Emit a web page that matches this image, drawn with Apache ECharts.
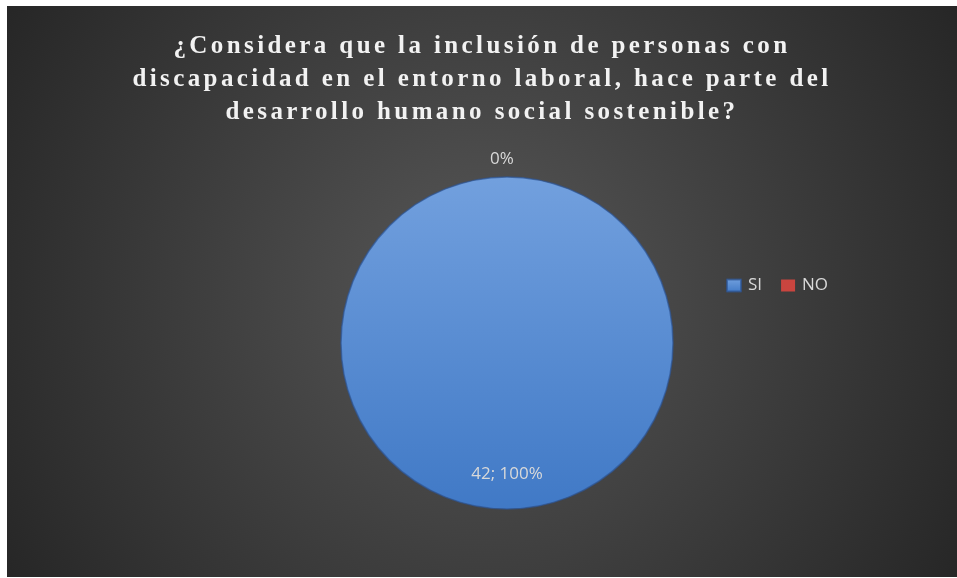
<!DOCTYPE html>
<html>
<head>
<meta charset="utf-8">
<script src="https://cdn.jsdelivr.net/npm/echarts@6/dist/echarts.min.js"></script>
<style>
  html, body { margin: 0; padding: 0; background: #ffffff; width: 957px; height: 578px; overflow: hidden; }
  #chart { position: absolute; left: 7px; top: 6px; width: 950px; height: 571px; }
  #title { position: absolute; left: 7px; top: 6px; width: 950px; height: 150px; pointer-events: none; }
</style>
</head>
<body>
<div id="chart"></div>
<div id="title"></div>
<script>
const titleLines = [
  '¿Considera que la inclusión de personas con',
  'discapacidad en el entorno laboral, hace parte del',
  'desarrollo humano social sostenible?'
];
const categories = ['SI', 'NO'];
const values = [42, 0];
const colors = ['#5b8fd6', '#c9453f'];

// letter spacing for the title canvas only
(function () {
  const proto = CanvasRenderingContext2D.prototype;
  const origFill = proto.fillText;
  proto.fillText = function () {
    const cv = this.canvas;
    if (cv && cv.closest && cv.closest('#title')) {
      this.letterSpacing = '3.4px';
    }
    return origFill.apply(this, arguments);
  };
})();

const chart = echarts.init(document.getElementById('chart'), null, { renderer: 'canvas' });
chart.setOption({
  backgroundColor: {
    type: 'radial', x: 0.5, y: 0.5, r: 0.98,
    colorStops: [
      { offset: 0, color: '#575757' },
      { offset: 1, color: '#262626' }
    ]
  },
  legend: {
    data: categories,
    left: 714, top: 266,
    orient: 'horizontal',
    icon: 'rect',
    itemWidth: 14, itemHeight: 12, itemGap: 19,
    textStyle: { color: '#d9d9d9', fontSize: 17, fontFamily: 'Open Sans, Noto Sans, sans-serif', padding: [0, 0, 0, 2] }
  },
  series: [{
    type: 'pie',
    center: [500, 337],
    radius: [0, 166],
    startAngle: 90,
    clockwise: true,
    avoidLabelOverlap: false,
    percentPrecision: 0,
    labelLine: { show: false, length: 9, length2: 0 },
    label: {
      color: '#d9d9d9', fontSize: 17, fontFamily: 'Open Sans, Noto Sans, sans-serif'
    },
    labelLayout: function (p) {
      if (p.dataIndex === 0) return { dy: 45 };
      return { align: 'center', verticalAlign: 'bottom' };
    },
    data: categories.map(function (c, i) {
      return {
        name: c, value: values[i],
        itemStyle: i === 0 ? {
          color: {
            type: 'linear', x: 0, y: 0, x2: 0, y2: 1,
            colorStops: [
              { offset: 0, color: '#72a0de' },
              { offset: 1, color: '#4079c6' }
            ]
          },
          borderColor: 'rgba(45,85,150,0.7)',
          borderWidth: 1.5
        } : { color: colors[i], borderWidth: 0 },
        label: i === 0
          ? { position: 'inside', formatter: '{c}; {d}%' }
          : { position: 'outside', formatter: '{d}%' }
      };
    })
  }],
  color: colors
});

const titleChart = echarts.init(document.getElementById('title'), null, { renderer: 'canvas' });
titleChart.setOption({
  title: {
    text: titleLines.join('\n'),
    left: 'center', top: 19,
    textStyle: {
      color: '#f2f2f2', fontSize: 25, fontWeight: 'bold',
      fontFamily: 'Liberation Serif, Times New Roman, serif',
      lineHeight: 33
    }
  }
});
</script>
</body>
</html>
